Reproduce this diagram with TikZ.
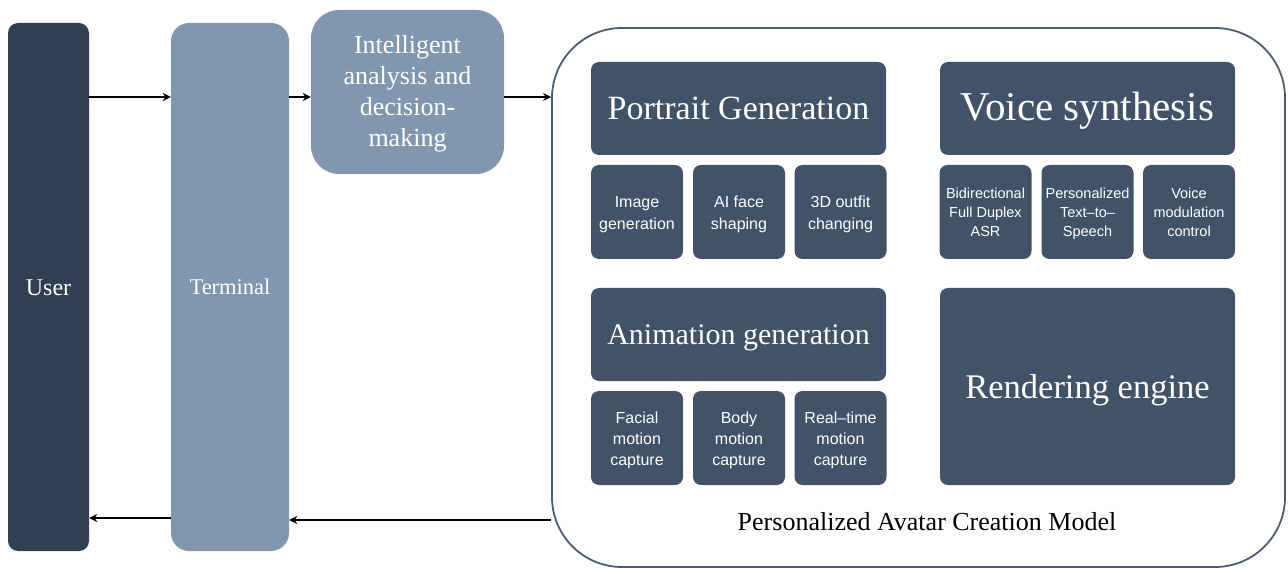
\documentclass[tikz,border=0pt]{standalone}
\usepackage{fontspec}
\setmainfont{Liberation Serif}
\newfontfamily\boxsans{Liberation Sans}
\usetikzlibrary{arrows.meta}
\definecolor{userc}{HTML}{323F52}
\definecolor{termc}{HTML}{8197B0}
\definecolor{innerc}{HTML}{415269}
\definecolor{framec}{HTML}{4A5D75}
\newcommand\lowtext[2][2pt]{\raisebox{-#1}[\height][\depth]{\begin{tabular}{@{}c@{}}#2\end{tabular}}}
\tikzset{
  box/.style={fill=innerc, draw=none, rounded corners=8pt, text=white, inner sep=0pt},
  titlebox/.style={box, minimum width=295pt, minimum height=93pt},
  smallbox/.style={box, minimum width=92pt, minimum height=94pt, font=\boxsans\fontsize{16}{22}\selectfont},
  voicebox/.style={box, minimum width=92pt, minimum height=94pt, font=\boxsans\fontsize{14.5}{19}\selectfont},
  animbox/.style={box, minimum width=92pt, minimum height=94pt, font=\boxsans\fontsize{16}{21}\selectfont},
  arr/.style={draw=black, line width=2.3pt, -{Stealth[length=8pt,width=8pt]}},
}
\begin{document}
\begin{tikzpicture}[x=1pt,y=-1pt]
\useasboundingbox (0,0) rectangle (1288,569);
% left column
\node[fill=userc, rounded corners=10pt, minimum width=81pt, minimum height=528pt, inner sep=0pt, text=white, font=\fontsize{24}{28}\selectfont] (user) at (48.5,287) {\lowtext[3pt]{User}};
\node[fill=termc, rounded corners=18pt, minimum width=118pt, minimum height=528pt, inner sep=0pt, text=white, font=\fontsize{22.5}{26}\selectfont] (term) at (230,287) {\lowtext[2pt]{Terminal}};
\node[fill=termc, rounded corners=28pt, minimum width=193pt, minimum height=164pt, inner sep=0pt, text=white, font=\fontsize{26}{31}\selectfont] (intel) at (407.5,92) {\lowtext[2pt]{Intelligent\\analysis and\\decision-\\making}};
% container
\node[draw=framec, line width=1.8pt, rounded corners=70pt, minimum width=733pt, minimum height=539pt, inner sep=0pt] (model) at (918.5,297.5) {};
\node[font=\fontsize{26}{30}\selectfont, inner sep=0pt] (caption) at (927,522) {Personalized Avatar Creation Model};
% portrait
\node[titlebox, font=\fontsize{34}{40}\selectfont] (portrait) at (738.5,108.5) {\lowtext[3pt]{Portrait Generation}};
\node[smallbox] (img) at (637,212) {\lowtext{Image\\generation}};
\node[smallbox] (face) at (739,212) {\lowtext{AI face\\shaping}};
\node[smallbox] (outfit) at (840.5,212) {\lowtext{3D outfit\\changing}};
% voice
\node[titlebox, font=\fontsize{41}{46}\selectfont] (voice) at (1087.5,108.5) {\lowtext[3pt]{Voice synthesis}};
\node[voicebox] (asr) at (985.5,212) {\lowtext{Bidirectional\\Full Duplex\\ASR}};
\node[voicebox] (tts) at (1087.5,212) {\lowtext{Personalized\\Text–to–\\Speech}};
\node[voicebox] (mod) at (1189,212) {\lowtext{Voice\\modulation\\control}};
% animation
\node[titlebox, font=\fontsize{30}{36}\selectfont] (anim) at (738.5,334.5) {\lowtext[3pt]{Animation generation}};
\node[animbox] (facial) at (637,438) {\lowtext{Facial\\motion\\capture}};
\node[animbox] (body) at (739,438) {\lowtext{Body\\motion\\capture}};
\node[animbox] (rt) at (840.5,438) {\lowtext{Real–time\\motion\\capture}};
% rendering
\node[box, minimum width=295pt, minimum height=197pt, font=\fontsize{34.5}{40}\selectfont] (render) at (1087.5,386.5) {\lowtext[4pt]{Rendering engine}};
% arrows
\draw[arr] (user.east |- 0,97) -- (term.west |- 0,97);
\draw[arr] (term.east |- 0,97) -- (intel.west |- 0,97);
\draw[arr] (intel.east |- 0,97) -- (model.west |- 0,97);
\draw[arr, line width=2.8pt] (model.west |- 0,520) -- (term.east |- 0,520);
\draw[arr] (term.west |- 0,518) -- (user.east |- 0,518);
\end{tikzpicture}
\end{document}
